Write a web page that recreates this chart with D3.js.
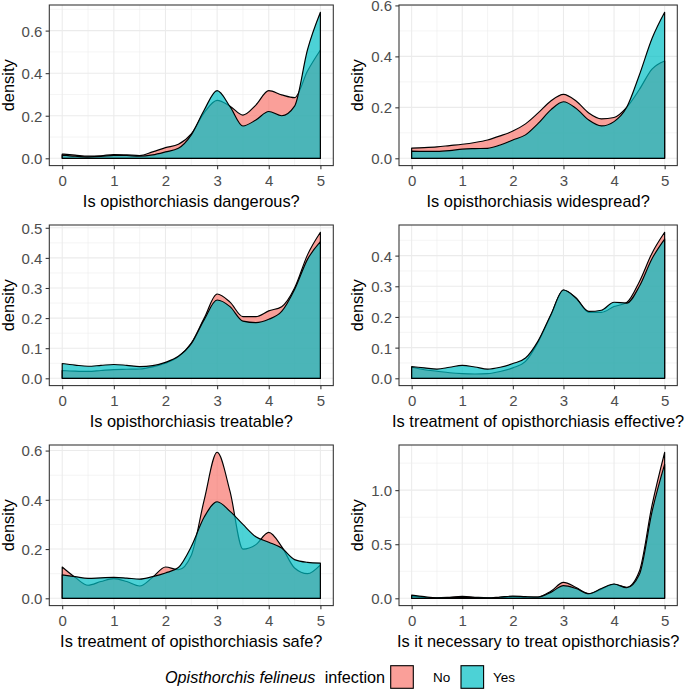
<!DOCTYPE html>
<html><head><meta charset="utf-8">
<script src="https://cdn.jsdelivr.net/npm/d3@7"></script>
<style>body{margin:0;background:#fff} svg{display:block}</style>
</head><body><svg id="chart" width="688" height="690"></svg>
<script>
// ---------- data ----------
const xGrid = [0,0.25,0.5,0.75,1,1.25,1.5,1.75,2,2.25,2.5,2.75,3,3.25,3.5,3.75,4,4.25,4.5,4.75,5];
const xTicks = [0,1,2,3,4,5];
const groups = ["No","Yes"];
const questions = [
  "Is opisthorchiasis dangerous?",
  "Is opisthorchiasis widespread?",
  "Is opisthorchiasis treatable?",
  "Is treatment of opisthorchiasis effective?",
  "Is treatment of opisthorchiasis safe?",
  "Is it necessary to treat opisthorchiasis?"
];
const noDangerous  = [0.020,0.015,0.010,0.012,0.018,0.016,0.013,0.030,0.050,0.066,0.115,0.215,0.272,0.245,0.203,0.250,0.318,0.298,0.285,0.410,0.509];
const yesDangerous = [0.015,0.010,0.007,0.009,0.014,0.013,0.010,0.016,0.030,0.047,0.110,0.227,0.318,0.243,0.152,0.180,0.220,0.200,0.245,0.510,0.686];
const noWidespread  = [0.040,0.042,0.045,0.050,0.055,0.062,0.072,0.088,0.107,0.135,0.178,0.225,0.251,0.225,0.178,0.155,0.160,0.200,0.270,0.350,0.382];
const yesWidespread = [0.028,0.027,0.027,0.030,0.036,0.038,0.039,0.052,0.072,0.092,0.137,0.190,0.222,0.196,0.150,0.127,0.144,0.200,0.327,0.470,0.573];
const noTreatable  = [0.026,0.024,0.023,0.026,0.029,0.030,0.031,0.038,0.050,0.072,0.117,0.200,0.280,0.253,0.205,0.205,0.224,0.238,0.300,0.410,0.485];
const yesTreatable = [0.049,0.044,0.040,0.043,0.046,0.043,0.039,0.042,0.053,0.073,0.115,0.195,0.260,0.238,0.190,0.185,0.196,0.222,0.295,0.395,0.454];
const noEffective  = [0.036,0.028,0.023,0.018,0.015,0.014,0.015,0.022,0.034,0.055,0.118,0.205,0.288,0.262,0.215,0.215,0.234,0.247,0.315,0.408,0.476];
const yesEffective = [0.038,0.034,0.030,0.036,0.042,0.037,0.030,0.036,0.048,0.066,0.122,0.207,0.288,0.261,0.218,0.222,0.248,0.245,0.300,0.390,0.454];
const noSafe  = [0.127,0.085,0.053,0.068,0.080,0.068,0.050,0.085,0.127,0.116,0.175,0.400,0.593,0.434,0.200,0.218,0.268,0.210,0.123,0.100,0.136];
const yesSafe = [0.095,0.088,0.081,0.083,0.085,0.082,0.078,0.088,0.103,0.125,0.210,0.330,0.392,0.353,0.300,0.250,0.228,0.204,0.157,0.146,0.143];
const noNecessary  = [0.020,0.010,0.005,0.010,0.018,0.010,0.004,0.008,0.015,0.012,0.012,0.065,0.147,0.100,0.043,0.085,0.130,0.102,0.250,0.860,1.350];
const yesNecessary = [0.030,0.015,0.005,0.006,0.008,0.006,0.004,0.012,0.020,0.015,0.012,0.055,0.117,0.090,0.043,0.090,0.132,0.098,0.220,0.800,1.240];
const yTicksDangerous  = [0,0.2,0.4,0.6];
const yTicksWidespread = [0,0.2,0.4,0.6];
const yTicksTreatable  = [0,0.1,0.2,0.3,0.4,0.5];
const yTicksEffective  = [0,0.1,0.2,0.3,0.4];
const yTicksSafe       = [0,0.2,0.4,0.6];
const yTicksNecessary  = [0,0.5,1.0];

const panels = [
  {title: questions[0], no: noDangerous,  yes: yesDangerous,  ticks: yTicksDangerous},
  {title: questions[1], no: noWidespread, yes: yesWidespread, ticks: yTicksWidespread},
  {title: questions[2], no: noTreatable,  yes: yesTreatable,  ticks: yTicksTreatable},
  {title: questions[3], no: noEffective,  yes: yesEffective,  ticks: yTicksEffective},
  {title: questions[4], no: noSafe,       yes: yesSafe,       ticks: yTicksSafe},
  {title: questions[5], no: noNecessary,  yes: yesNecessary,  ticks: yTicksNecessary}
];

// ---------- layout ----------
const colLeft  = [49.3, 399];
const colRight = [333.3, 677.3];
const rowTop   = [5, 225, 445];
const panelH   = 160.6;
const ylabX    = [9.4, 359.2];
const FONT = "'Liberation Sans', Arial, Helvetica, sans-serif";
const fillColor = {No: "#F8766D", Yes: "#00BFC4"};
const fillAlpha = 0.7;

const svg = d3.select("#chart").attr("font-family", FONT);
svg.append("rect").attr("width",688).attr("height",690).attr("fill","#fff");

function minorBreaks(major, lo, hi) {
  const step = major[1]-major[0];
  const ext = [major[0]-step, ...major, major[major.length-1]+step];
  const out = [];
  for (let i=0;i<ext.length-1;i++){ const m=(ext[i]+ext[i+1])/2; if (m>=lo && m<=hi) out.push(m); }
  return out;
}

panels.forEach((p, i) => {
  const col = i % 2, row = Math.floor(i / 2);
  const L = colLeft[col], R = colRight[col], T = rowTop[row], B = T + panelH;
  const x = d3.scaleLinear().domain([-0.25, 5.25]).range([L, R]);
  const maxV = d3.max([...p.no, ...p.yes]);
  const y = d3.scaleLinear().domain([-0.05*maxV, 1.05*maxV]).range([B, T]);
  const g = svg.append("g");

  // grid
  const xMinor = minorBreaks(xTicks, -0.25, 5.25);
  const yMinor = minorBreaks(p.ticks, y.domain()[0], y.domain()[1]);
  g.selectAll(".xmin").data(xMinor).join("line")
    .attr("x1", d=>x(d)).attr("x2", d=>x(d)).attr("y1", T).attr("y2", B)
    .attr("stroke", "#EBEBEB").attr("stroke-width", 0.55);
  g.selectAll(".ymin").data(yMinor).join("line")
    .attr("y1", d=>y(d)).attr("y2", d=>y(d)).attr("x1", L).attr("x2", R)
    .attr("stroke", "#EBEBEB").attr("stroke-width", 0.55);
  g.selectAll(".xmaj").data(xTicks).join("line")
    .attr("x1", d=>x(d)).attr("x2", d=>x(d)).attr("y1", T).attr("y2", B)
    .attr("stroke", "#EBEBEB").attr("stroke-width", 1.07);
  g.selectAll(".ymaj").data(p.ticks).join("line")
    .attr("y1", d=>y(d)).attr("y2", d=>y(d)).attr("x1", L).attr("x2", R)
    .attr("stroke", "#EBEBEB").attr("stroke-width", 1.07);

  // densities
  const area = d3.area().x(d=>x(d[0])).y0(y(0)).y1(d=>y(d[1])).curve(d3.curveMonotoneX);
  groups.forEach(gr => {
    const vals = gr === "No" ? p.no : p.yes;
    g.append("path").datum(xGrid.map((xv,k)=>[xv, vals[k]]))
      .attr("d", area)
      .attr("fill", fillColor[gr]).attr("fill-opacity", fillAlpha)
      .attr("stroke", "#000").attr("stroke-width", 1.15).attr("stroke-linejoin","round");
  });

  // border
  g.append("rect").attr("x", L).attr("y", T).attr("width", R-L).attr("height", B-T)
    .attr("fill", "none").attr("stroke", "#333333").attr("stroke-width", 1.07);

  // axes
  const xAxis = d3.axisBottom(x).tickValues(xTicks).tickSize(3.67).tickPadding(5).tickFormat(d3.format("d"));
  const yAxis = d3.axisLeft(y).tickValues(p.ticks).tickSize(3.67).tickPadding(3.2).tickFormat(d3.format(".1f"));
  const gx = g.append("g").attr("transform", `translate(0,${B})`).call(xAxis);
  const gy = g.append("g").attr("transform", `translate(${L},0)`).call(yAxis);
  [gx, gy].forEach(a => {
    a.select(".domain").remove();
    a.selectAll(".tick line").attr("stroke", "#333333").attr("stroke-width", 1.07);
    a.selectAll(".tick text").attr("fill", "#4D4D4D").attr("font-size", "15px").attr("font-family", FONT);
  });
  gx.selectAll(".tick text").attr("dy", null).attr("y", 20).attr("dominant-baseline", "auto");
  gy.selectAll(".tick text").attr("dy", "0.36em");

  // titles
  g.append("text").attr("x", (L+R)/2).attr("y", B + 41).attr("text-anchor", "middle")
    .attr("font-size", "16.4px").attr("fill", "#000").text(p.title);
  g.append("text").attr("transform", `translate(${ylabX[col]},${(T+B)/2}) rotate(-90)`)
    .attr("text-anchor", "middle").attr("dy", "0.26em")
    .attr("font-size", "16.4px").attr("fill", "#000").text("density");
});

// ---------- legend ----------
const leg = svg.append("g");
leg.append("text").attr("x", 165).attr("y", 682.5).attr("font-size", "16.2px").attr("font-style", "italic").text("Opisthorchis felineus");
leg.append("text").attr("x", 385).attr("y", 682.5).attr("text-anchor", "end").attr("font-size", "16.2px").text("infection");
const keyX = [390.7, 461];
const labX = [433, 493];
groups.forEach((gr, k) => {
  leg.append("rect").attr("x", keyX[k]).attr("y", 665.7).attr("width", 22.6).attr("height", 22.6)
    .attr("fill", fillColor[gr]).attr("fill-opacity", fillAlpha)
    .attr("stroke", "#000").attr("stroke-width", 1.1);
  leg.append("text").attr("x", labX[k]).attr("y", 682.3).attr("font-size", "13.5px").text(gr);
});
</script></body></html>
